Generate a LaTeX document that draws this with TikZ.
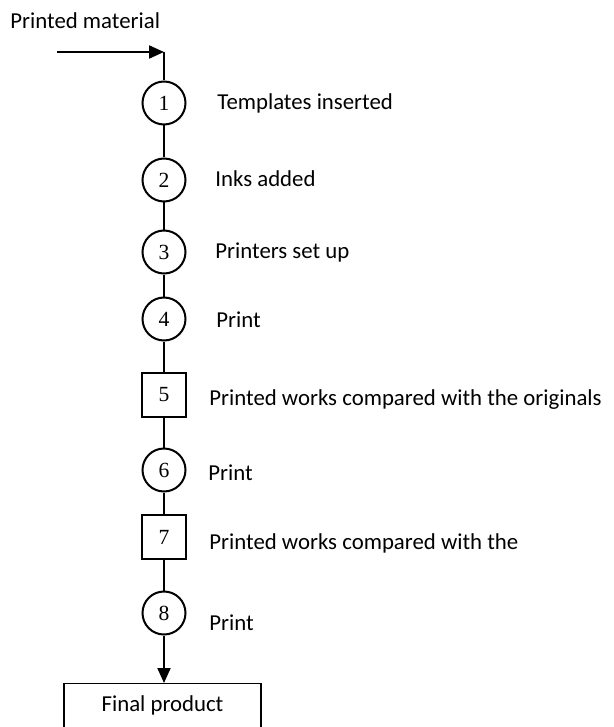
\documentclass[tikz,border=0pt]{standalone}
\usepackage{fontspec}
\setmainfont{Carlito}
\newfontfamily\numfont{Liberation Serif}
\usetikzlibrary{positioning,arrows.meta}

\begin{document}
\begin{tikzpicture}[x=0.5pt,y=-0.5pt,
  op/.style={circle,draw,line width=1pt,minimum size=21.5pt,inner sep=0pt,
             font=\numfont\fontsize{10.8}{12}\selectfont},
  insp/.style={draw,line width=1pt,minimum size=22pt,inner sep=0pt,
               font=\numfont\fontsize{10.8}{12}\selectfont},
  box/.style={draw,line width=0.6pt,minimum width=98.5pt,minimum height=30pt,
              text depth=10pt,font=\fontsize{11.4}{13}\selectfont},
  lbl/.style={anchor=base west,inner sep=0pt,font=\fontsize{11.4}{13}\selectfont},
  ln/.style={line width=1pt},
  arr/.style={-{Triangle[length=7.5pt,width=6.5pt]},line width=1pt}]
  \useasboundingbox (0,0) rectangle (614,727);
  \clip (0,0) rectangle (614,727);

  % material in
  \coordinate (src) at (57,52);
  \coordinate (in)  at (164,52);
  \node[lbl] (matl) at (10,29) {Printed material};

  % process steps
  \node[op]   (c1) at (164,103) {1};
  \node[op]   (c2) at (164,180) {2};
  \node[op]   (c3) at (164,252) {3};
  \node[op]   (c4) at (164,319) {4};
  \node[insp] (c5) at (164,395) {5};
  \node[op]   (c6) at (164,470) {6};
  \node[insp] (c7) at (164,537) {7};
  \node[op]   (c8) at (164,613) {8};
  \node[box,anchor=north] (fin) at (162.5,683) {Final product};

  \node[lbl] (t1) at (217,110) {Templates inserted};
  \node[lbl] (t2) at (215,187) {Inks added};
  \node[lbl] (t3) at (215,258) {Printers set up};
  \node[lbl] (t4) at (216,327) {Print};
  \node[lbl] (t5) at (209,405) {Printed works compared with the originals};
  \node[lbl] (t6) at (208,480) {Print};
  \node[lbl] (t7) at (209,549) {Printed works compared with the};
  \node[lbl] (t8) at (209,630) {Print};

  \draw[arr] (src) -- (in);
  \draw[ln] (in) -- (c1) -- (c2) -- (c3) -- (c4) -- (c5) -- (c6) -- (c7) -- (c8);
  \draw[arr] (c8) -- (c8 |- fin.north);
\end{tikzpicture}
\end{document}
